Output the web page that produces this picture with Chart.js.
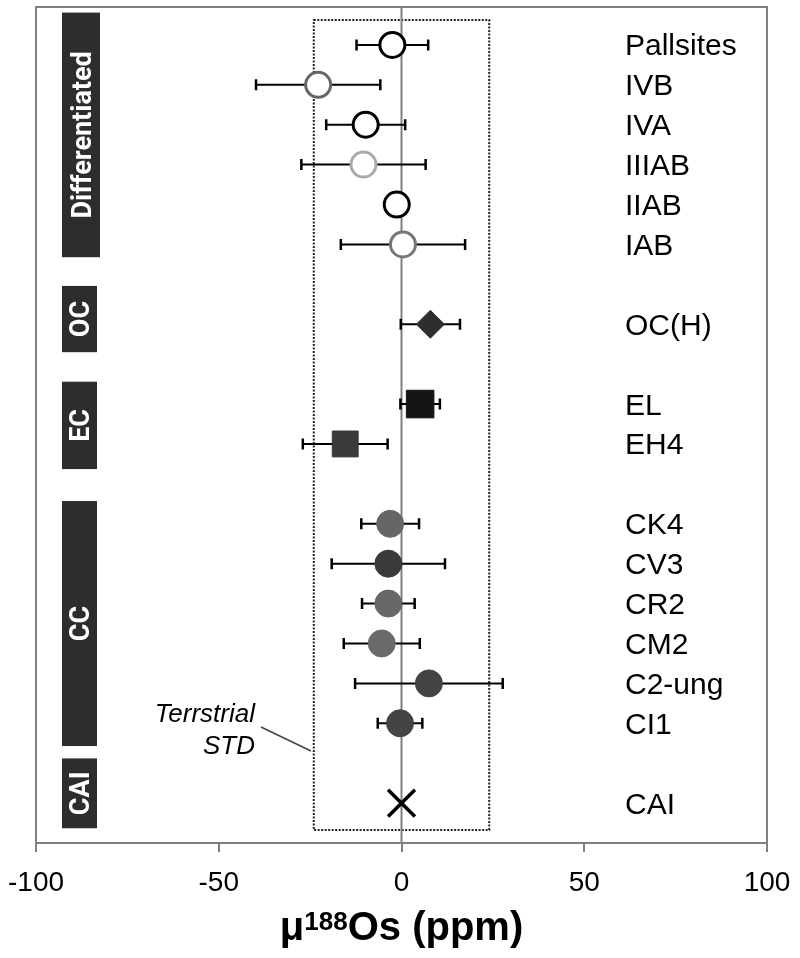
<!DOCTYPE html>
<html>
<head>
<meta charset="utf-8">
<script src="https://cdn.jsdelivr.net/npm/chart.js@4.4.1/dist/chart.umd.min.js"></script>
<style>
  html, body { margin: 0; padding: 0; background: #fff; }
  #wrap { width: 800px; height: 958px; }
</style>
</head>
<body>
<div id="wrap"><canvas id="osChart"></canvas></div>
<script>
// rows from top to bottom, '' marks an empty row between groups
const categories = ['Pallsites', 'IVB', 'IVA', 'IIIAB', 'IIAB', 'IAB', '', 'OC(H)', '', 'EL', 'EH4', '',
    'CK4', 'CV3', 'CR2', 'CM2', 'C2-ung', 'CI1', '', 'CAI'];
const mu188Os = [-2.5, -22.8, -9.8, -10.4, -1.3, 0.4, null, 7.9, null, 5.1, -15.4, null,
    -3.1, -3.6, -3.6, -5.4, 7.5, -0.4, null, 0];
const errors = [9.8, 17, 10.8, 17, 0, 17, null, 8.1, null, 5.4, 11.6, null,
    7.9, 15.5, 7.2, 10.4, 20.2, 6.1, null, 0];
const xTicks = [-100, -50, 0, 50, 100];
const groupNames = ['Differentiated', 'OC', 'EC', 'CC', 'CAI'];
const terrestrialStd = [-24, 24];

// styling, kept apart from the values
const groupSpans = [[-0.81, 5.32], [6.04, 7.7], [8.44, 10.63], [11.43, 17.57], [17.88, 19.63]];
const markerOf = {
    'Pallsites': ['open', '#000000'], 'IVB': ['open', '#666666'], 'IVA': ['open', '#000000'],
    'IIIAB': ['open', '#aaaaaa'], 'IIAB': ['open', '#000000'], 'IAB': ['open', '#777777'],
    'OC(H)': ['diamond', '#2e2e2e'], 'EL': ['square', '#151515'], 'EH4': ['squareSm', '#3a3a3a'],
    'CK4': ['dot', '#666666'], 'CV3': ['dot', '#3a3a3a'], 'CR2': ['dot', '#676767'],
    'CM2': ['dot', '#6a6a6a'], 'C2-ung': ['dot', '#444444'], 'CI1': ['dot', '#444444'],
    'CAI': ['x', '#000000']
};

const points = [], pStyle = [], pRadius = [], pFill = [], pStroke = [], pWidth = [];
categories.forEach((name, i) => {
    if (!name) return;
    points.push({ x: mu188Os[i], y: i });
    const [kind, col] = markerOf[name];
    if (kind === 'open') { pStyle.push('circle'); pRadius.push(12.5); pFill.push('#ffffff'); pStroke.push(col); pWidth.push(3); }
    if (kind === 'dot') { pStyle.push('circle'); pRadius.push(13.5); pFill.push(col); pStroke.push(col); pWidth.push(1); }
    if (kind === 'diamond') { pStyle.push('rectRot'); pRadius.push(14); pFill.push(col); pStroke.push(col); pWidth.push(1); }
    if (kind === 'square') { pStyle.push('rect'); pRadius.push(19.5); pFill.push(col); pStroke.push(col); pWidth.push(1); }
    if (kind === 'squareSm') { pStyle.push('rect'); pRadius.push(18.3); pFill.push(col); pStroke.push(col); pWidth.push(1); }
    if (kind === 'x') { pStyle.push('crossRot'); pRadius.push(19); pFill.push(col); pStroke.push(col); pWidth.push(3.5); }
});

const decorations = {
    id: 'decorations',
    beforeDatasetsDraw(chart) {
        const ctx = chart.ctx, a = chart.chartArea;
        const xs = chart.scales.x, ys = chart.scales.y;
        ctx.save();
        // terrestrial standard box
        ctx.strokeStyle = '#222';
        ctx.lineWidth = 2;
        ctx.setLineDash([2, 1.5]);
        const bx1 = xs.getPixelForValue(terrestrialStd[0]), bx2 = xs.getPixelForValue(terrestrialStd[1]);
        ctx.strokeRect(bx1, a.top + 13, bx2 - bx1, a.bottom - a.top - 26);
        ctx.setLineDash([]);
        // zero line
        const x0 = xs.getPixelForValue(0);
        ctx.strokeStyle = '#808080';
        ctx.lineWidth = 2;
        ctx.beginPath(); ctx.moveTo(x0, a.top); ctx.lineTo(x0, a.bottom); ctx.stroke();
        // error bars
        ctx.strokeStyle = '#000';
        categories.forEach((name, i) => {
            if (!name || !errors[i]) return;
            const y = ys.getPixelForValue(i);
            const l = xs.getPixelForValue(mu188Os[i] - errors[i]);
            const r = xs.getPixelForValue(mu188Os[i] + errors[i]);
            ctx.lineWidth = 2;
            ctx.beginPath(); ctx.moveTo(l, y); ctx.lineTo(r, y); ctx.stroke();
            ctx.lineWidth = 2.5;
            ctx.beginPath();
            ctx.moveTo(l, y - 5.5); ctx.lineTo(l, y + 5.5);
            ctx.moveTo(r, y - 5.5); ctx.lineTo(r, y + 5.5);
            ctx.stroke();
        });
        ctx.restore();
    },
    afterDraw(chart) {
        const ctx = chart.ctx, a = chart.chartArea;
        const xs = chart.scales.x, ys = chart.scales.y;
        ctx.save();
        // frame
        ctx.strokeStyle = '#808080';
        ctx.lineWidth = 2;
        ctx.strokeRect(a.left, a.top, a.right - a.left, a.bottom - a.top);

        // row labels
        ctx.fillStyle = '#000';
        ctx.font = '30px "Liberation Sans", Arial, sans-serif';
        ctx.textAlign = 'left';
        ctx.textBaseline = 'alphabetic';
        categories.forEach((name, i) => {
            if (!name) return;
            ctx.fillText(name, 625, ys.getPixelForValue(i) + 10.5);
        });

        // group boxes
        groupNames.forEach((g, k) => {
            const t = ys.getPixelForValue(groupSpans[k][0]);
            const b = ys.getPixelForValue(groupSpans[k][1]);
            const w = k === 0 ? 38 : 35;
            ctx.fillStyle = '#2d2d2d';
            ctx.fillRect(62, t, w, b - t);
            ctx.save();
            ctx.translate(62 + w / 2, (t + b) / 2);
            ctx.rotate(-Math.PI / 2);
            ctx.fillStyle = '#fff';
            ctx.font = 'bold 27px Roboto, sans-serif';
            ctx.textAlign = 'center';
            ctx.textBaseline = 'alphabetic';
            ctx.fillText(g, 0, 9.5);
            ctx.restore();
        });

        // terrestrial std annotation
        ctx.fillStyle = '#000';
        ctx.font = 'italic 26px "Liberation Sans", Arial, sans-serif';
        ctx.textAlign = 'right';
        ctx.fillText('Terrstrial', 255, 722);
        ctx.fillText('STD', 255, 754);
        ctx.strokeStyle = '#444';
        ctx.lineWidth = 1.5;
        ctx.beginPath(); ctx.moveTo(261, 727); ctx.lineTo(311, 751); ctx.stroke();

        // axis title with superscript
        const cx = xs.getPixelForValue(0);
        const big = 'bold 40px "Liberation Sans", Arial, sans-serif';
        const small = 'bold 26px "Liberation Sans", Arial, sans-serif';
        ctx.textAlign = 'left';
        ctx.font = big;
        const w1 = ctx.measureText('\u03bc').width, w3 = ctx.measureText('Os (ppm)').width;
        ctx.font = small;
        const w2 = ctx.measureText('188').width;
        let x = cx - (w1 + w2 + w3) / 2;
        ctx.font = big; ctx.fillText('\u03bc', x, 940); x += w1;
        ctx.font = small; ctx.fillText('188', x, 930); x += w2;
        ctx.font = big; ctx.fillText('Os (ppm)', x, 940);
        ctx.restore();
    }
};

new Chart(document.getElementById('osChart'), {
    type: 'scatter',
    data: {
        datasets: [{
            data: points,
            pointStyle: pStyle,
            pointRadius: pRadius,
            pointHoverRadius: pRadius,
            pointBackgroundColor: pFill,
            pointBorderColor: pStroke,
            pointBorderWidth: pWidth
        }]
    },
    options: {
        responsive: true,
        maintainAspectRatio: false,
        animation: false,
        layout: { autoPadding: false, padding: { left: 36, right: 33, top: 7, bottom: 0 } },
        plugins: { legend: { display: false }, tooltip: { enabled: false } },
        scales: {
            x: {
                type: 'linear',
                min: -100,
                max: 100,
                afterBuildTicks: (scale) => { scale.ticks = xTicks.map(v => ({ value: v })); },
                afterFit: (scale) => {
                    scale.height = 115;
                    scale.paddingLeft = 0;
                    scale.paddingRight = 0;
                },
                border: { display: false },
                grid: { drawOnChartArea: false, drawTicks: true, tickLength: 9, color: '#808080', lineWidth: 2 },
                ticks: {
                    color: '#000',
                    padding: 14,
                    maxRotation: 0,
                    font: { family: '"Liberation Sans", Arial, sans-serif', size: 28 }
                }
            },
            y: {
                type: 'linear',
                display: false,
                reverse: true,
                min: -0.95,
                max: 20
            }
        }
    },
    plugins: [decorations]
});
</script>
</body>
</html>
